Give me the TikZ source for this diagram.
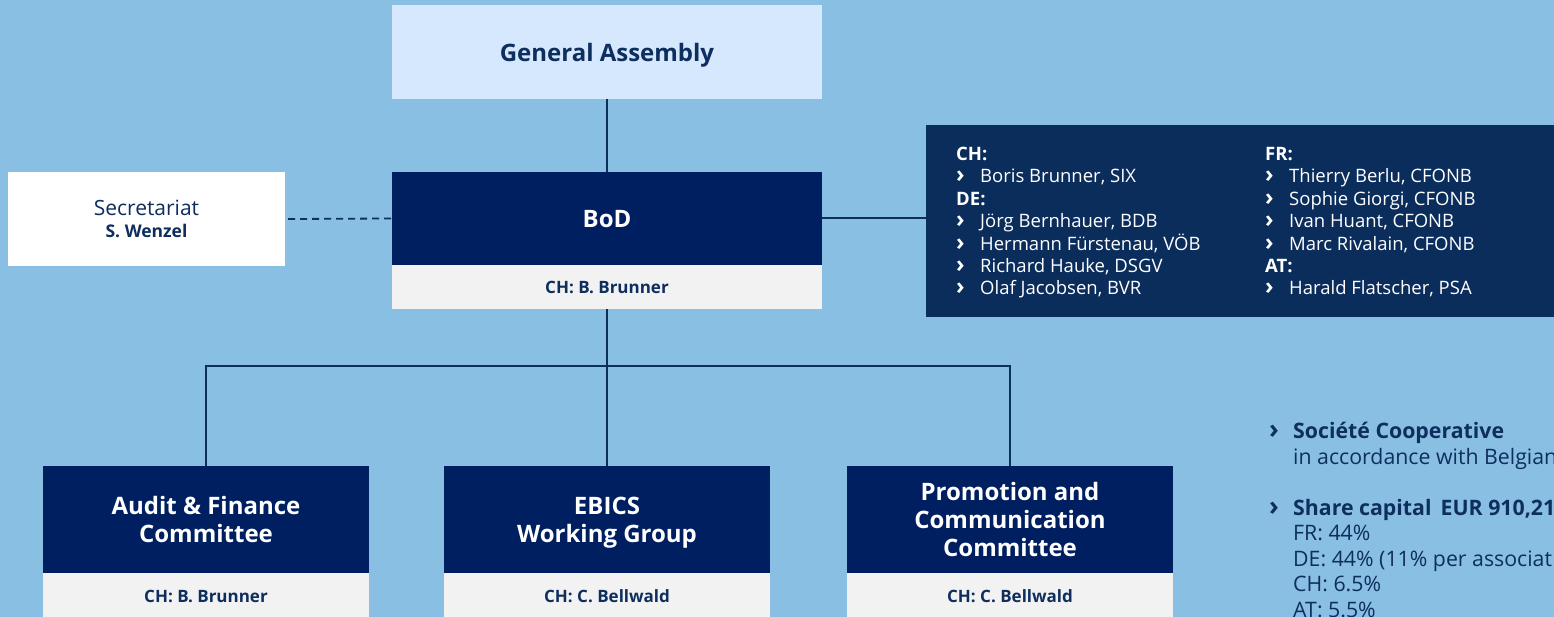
\documentclass[tikz,border=0pt]{standalone}
\usepackage{fontspec}
\setmainfont{Open Sans}
\definecolor{bgblue}{RGB}{137,191,227}
\definecolor{navy}{RGB}{0,31,96}
\definecolor{boardnavy}{RGB}{10,45,92}
\definecolor{txtnavy}{RGB}{14,46,94}
\definecolor{lightgray}{RGB}{242,242,242}
\definecolor{gafill}{RGB}{214,232,254}
\newcommand{\bul}{\makebox[24pt][l]{\scalebox{1.25}{\bfseries ›}}}
\tikzset{
  box/.style={rectangle, inner sep=0pt, outer sep=0pt, align=center},
  navybox/.style={box, fill=navy, text=white, text depth=0pt, font=\bfseries\fontsize{24}{28}\selectfont},
  graybox/.style={box, fill=lightgray, text=txtnavy, font=\bfseries\fontsize{17}{21}\selectfont},
  link/.style={draw=txtnavy, line width=2pt},
  coltext/.style={inner sep=0pt, anchor=north west, align=left, text=white, font=\fontsize{18.5}{22.4}\selectfont},
  infotext/.style={inner sep=0pt, anchor=north west, align=left, text=txtnavy, font=\fontsize{21.3}{25.5}\selectfont},
}
\begin{document}
\begin{tikzpicture}[x=1pt,y=-1pt]
\fill[bgblue] (0,0) rectangle (1554,617);
\useasboundingbox (0,0) rectangle (1554,617);
\clip (0,0) rectangle (1554,617);
% General Assembly
\node[box, fill=gafill, text=txtnavy, text depth=0pt, minimum width=430pt, minimum height=94pt, font=\bfseries\fontsize{24}{28}\selectfont] (ga) at (607,52) {General Assembly};
% BoD
\node[navybox, minimum width=430pt, minimum height=93pt] (bod) at (607,218.5) {BoD};
\node[graybox, minimum width=430pt, minimum height=44pt] (bodch) at (607,287) {CH: B. Brunner};
% Secretariat
\node[box, fill=white, text=txtnavy, text depth=0pt, minimum width=277pt, minimum height=94pt, font=\fontsize{21}{22.3}\selectfont] (sec) at (146.5,219) {Secretariat\\{\bfseries\fontsize{17.5}{22.3}\selectfont S. Wenzel}};
% Board members
\node[box, fill=boardnavy, minimum width=634pt, minimum height=192pt] (board) at (1243,221) {};
\node[coltext] (colA) at (956,147) {\textbf{CH:}\\\bul Boris Brunner, SIX\\\textbf{DE:}\\\bul Jörg Bernhauer, BDB\\\bul Hermann Fürstenau, VÖB\\\bul Richard Hauke, DSGV\\\bul Olaf Jacobsen, BVR};
\node[coltext] (colB) at (1265,147) {\textbf{FR:}\\\bul Thierry Berlu, CFONB\\\bul Sophie Giorgi, CFONB\\\bul Ivan Huant, CFONB\\\bul Marc Rivalain, CFONB\\\textbf{AT:}\\\bul Harald Flatscher, PSA};
% Committees
\node[navybox, minimum width=326pt, minimum height=107pt] (audit) at (206,519.5) {Audit \& Finance\\Committee};
\node[graybox, minimum width=326pt, minimum height=47pt] (auditch) at (206,596.5) {CH: B. Brunner};
\node[navybox, minimum width=326pt, minimum height=107pt] (ebics) at (607,519.5) {EBICS\\Working Group};
\node[graybox, minimum width=326pt, minimum height=47pt] (ebicsch) at (607,596.5) {CH: C. Bellwald};
\node[navybox, minimum width=326pt, minimum height=107pt] (promo) at (1010,519.5) {Promotion and\\Communication\\Committee};
\node[graybox, minimum width=326pt, minimum height=47pt] (promoch) at (1010,596.5) {CH: C. Bellwald};
% Right info text
\node[infotext] (info1) at (1269,422) {\bul\textbf{Société Cooperative}\\\hspace*{24pt}in accordance with Belgian};
\node[infotext] (info2) at (1269,499) {\bul\textbf{Share capital\, EUR 910,21}\\\hspace*{24pt}FR: 44\%\\\hspace*{24pt}DE: 44\% (11\% per associat\\\hspace*{24pt}CH: 6.5\%\\\hspace*{24pt}AT: 5.5\%};
% Connectors
\coordinate (j) at (607,366);
\draw[link] (ga.south) -- (bod.north);
\draw[txtnavy, line width=1.8pt, dash pattern=on 7pt off 5pt] (sec.east) ++(3,0) -- (bod.west);
\draw[link] (bod.east) -- (bod.east -| board.west);
\draw[link] (bodch.south) -- (j);
\draw[link] (audit.north) |- (j);
\draw[link] (promo.north) |- (j);
\draw[link] (ebics.north) -- (j);
\end{tikzpicture}
\end{document}
